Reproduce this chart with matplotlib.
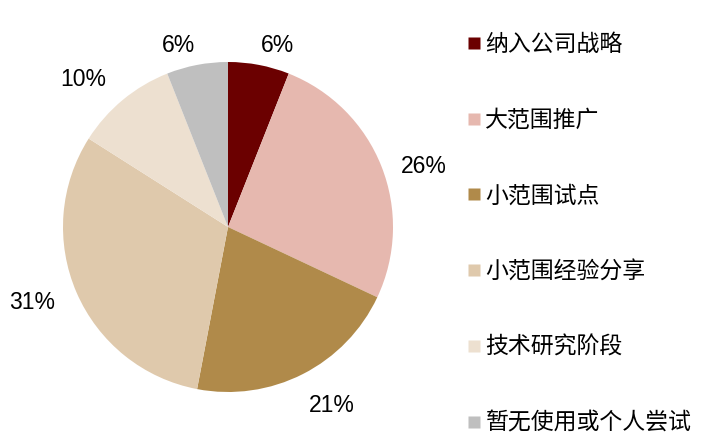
import numpy as np
import matplotlib
matplotlib.use("Agg")
import matplotlib.pyplot as plt
from matplotlib.lines import Line2D

plt.rcParams['font.family'] = ['Noto Sans CJK SC', 'DejaVu Sans']

# dados
categorias = ['纳入公司战略', '大范围推广', '小范围试点', '小范围经验分享', '技术研究阶段', '暂无使用或个人尝试']
valores = [6, 26, 21, 31, 10, 6]
cores = ['#6B0000', '#E6B8AF', '#B08A4A', '#DFC9AC', '#EDE0D0', '#BFBFBF']

# posição dos rótulos: distância (em raios) e desvio do ângulo médio (graus)
dist_rotulos = [1.14, 1.24, 1.25, 1.27, 1.25, 1.14]
desvio_ang = [-4.3, -4.5, 3.1, -2.4, 4.8, 4.6]

W, H = 709, 446
fig = plt.figure(figsize=(W / 100, H / 100), dpi=100)

cx, cy, r = 228, 446 - 227, 165
ax = fig.add_axes([(cx - r) / W, (cy - r) / H, 2 * r / W, 2 * r / H])

wedges, _ = ax.pie(valores, colors=cores, startangle=90, counterclock=False,
                   radius=1, wedgeprops=dict(linewidth=0))
ax.set_xlim(-1, 1)
ax.set_ylim(-1, 1)
ax.set_aspect('equal')
ax.axis('off')

for w, v, d, da in zip(wedges, valores, dist_rotulos, desvio_ang):
    ang = np.deg2rad((w.theta1 + w.theta2) / 2 + da)
    ax.text(d * np.cos(ang), d * np.sin(ang), f'{v}%', ha='center', va='center',
            fontsize=16.5, family='Liberation Sans', clip_on=False)

handles = [Line2D([], [], marker='s', linestyle='none', markersize=8,
                  markerfacecolor=c, markeredgecolor='none') for c in cores]
fig.legend(handles, categorias, loc='upper left', bbox_to_anchor=(467 / W, 1 - 33 / H),
           frameon=False, fontsize=16.5, labelspacing=2.3, handlelength=0.6,
           handletextpad=0.2, borderaxespad=0, borderpad=0)

fig.savefig('out.png', dpi=100)
